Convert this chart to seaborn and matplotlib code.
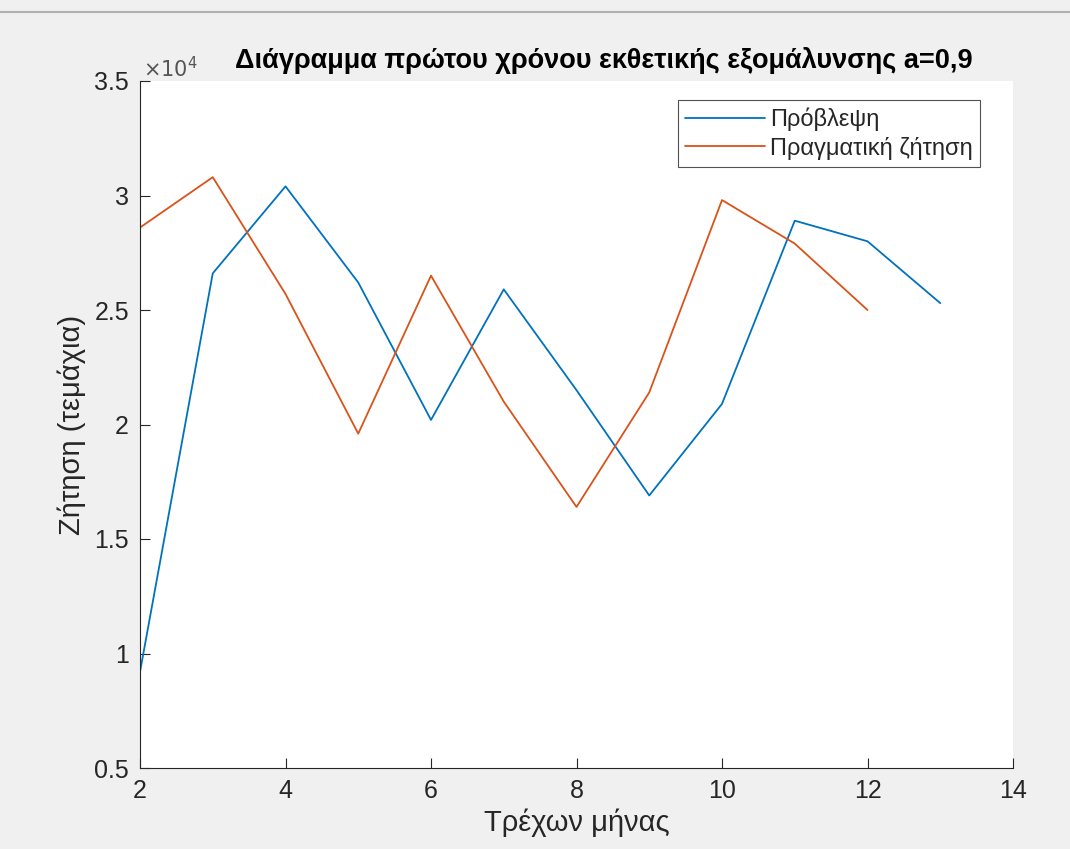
import pandas as pd
import matplotlib.pyplot as plt
import seaborn as sns
from matplotlib.lines import Line2D
from matplotlib.ticker import FuncFormatter

# Values (units: pieces)
forecast_months = [2, 3, 4, 5, 6, 7, 8, 9, 10, 11, 12, 13]
forecast = [9200, 26600, 30400, 26200, 20200, 25900, 21500, 16900, 20900, 28900, 28000, 25300]
demand_months = [2, 3, 4, 5, 6, 7, 8, 9, 10, 11, 12]
demand = [28600, 30800, 25700, 19600, 26500, 21000, 16400, 21400, 29800, 27900, 25000]

series_names = ["Πρόβλεψη", "Πραγματική ζήτηση"]
colors = ["#0072BD", "#D95319"]

df = pd.concat([
    pd.DataFrame({"month": forecast_months, "value": forecast, "series": series_names[0]}),
    pd.DataFrame({"month": demand_months, "value": demand, "series": series_names[1]}),
], ignore_index=True)

sns.set_theme(style="ticks")
plt.rcParams["font.family"] = ["Liberation Sans", "DejaVu Sans"]
txt = "#262626"

fig = plt.figure(figsize=(10.7, 8.49), dpi=100, facecolor="#f0f0f0")
ax = fig.add_axes([140 / 1070, 1 - 768 / 849, (1013 - 140) / 1070, (768 - 81) / 849])
ax.set_facecolor("white")

sns.lineplot(data=df, x="month", y="value", hue="series", hue_order=series_names,
             palette=colors, linewidth=1.3, ax=ax, sort=False)

ax.set_xlim(2, 14)
ax.set_ylim(5000, 35000)
ax.set_xticks(range(2, 15, 2))
ax.set_yticks([5000, 10000, 15000, 20000, 25000, 30000, 35000])
ax.yaxis.set_major_formatter(FuncFormatter(lambda v, p: f"{v / 1e4:g}"))
ax.tick_params(direction="in", length=7, width=0.8, colors=txt, labelsize=18, pad=8)

for s in ["top", "right"]:
    ax.spines[s].set_visible(False)
for s in ["left", "bottom"]:
    ax.spines[s].set_color(txt)
    ax.spines[s].set_linewidth(0.8)

ax.set_xlabel("Τρέχων μήνας", fontsize=21, color=txt, labelpad=4)
ax.set_ylabel("Ζήτηση (τεμάχια)", fontsize=21, color=txt, labelpad=6)
ax.text(0.003, 1.0, r"$\times 10^4$", transform=ax.transAxes, fontsize=15,
        color="#555555", ha="left", va="bottom")
fig.text(604 / 1070, 1 - 60 / 849, "Διάγραμμα πρώτου χρόνου εκθετικής εξομάλυνσης a=0,9",
         fontsize=19.5, fontweight="bold", color="black", ha="center", va="center")

leg = ax.legend(loc="upper right", bbox_to_anchor=(0.962, 0.972), fontsize=17,
                frameon=True, fancybox=False, handlelength=3.4, borderpad=0.3,
                labelspacing=0.25, handletextpad=0.2, borderaxespad=0)
leg.get_frame().set_edgecolor(txt)
leg.get_frame().set_linewidth(0.8)
for t in leg.get_texts():
    t.set_color(txt)

# toolbar edge at the very top of the screenshot
fig.add_artist(Line2D([0, 1], [1 - 12 / 849, 1 - 12 / 849], color="#b0b0b0", linewidth=1.5))

fig.savefig("out.png", dpi=100, facecolor=fig.get_facecolor())
